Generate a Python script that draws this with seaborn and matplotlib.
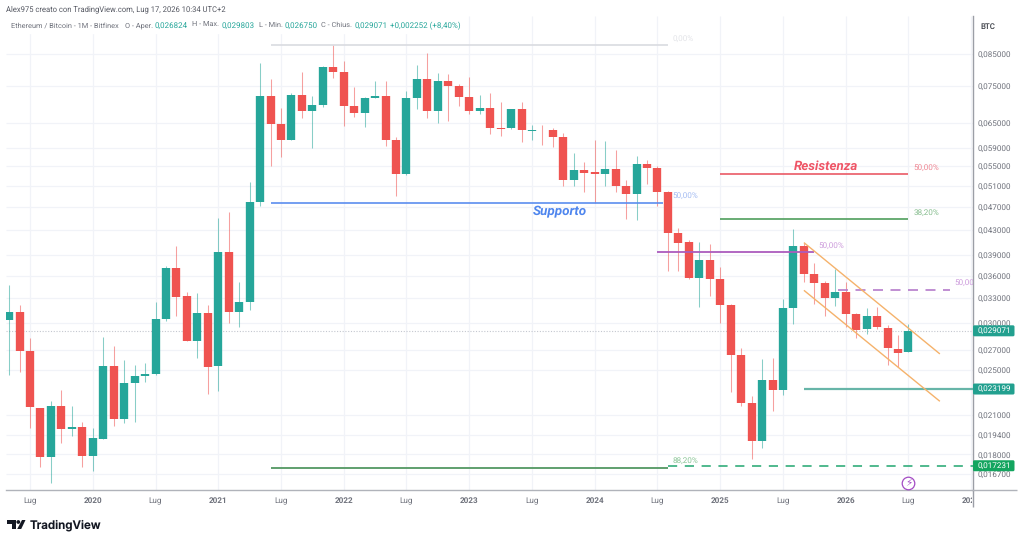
import numpy as np
import pandas as pd
import seaborn as sns
import matplotlib
matplotlib.use("Agg")
import matplotlib.pyplot as plt
from matplotlib.patches import FancyBboxPatch, Polygon, Circle, Rectangle
from matplotlib.transforms import Bbox, IdentityTransform

# ETH/BTC monthly candles, first candle May 2019, prices in units of 1e-5 BTC
opens = [3032, 3122, 2689, 2158, 1785, 2174, 1984, 2004, 1790, 1914, 2536, 2065, 2377, 2439, 2458, 3044,
         3708, 3327, 2794, 3119, 2536, 3950, 3130, 3251, 4795, 7225, 6474, 6083, 7253, 6824, 6969, 8091,
         7927, 6958, 6756, 7177, 7225, 6091, 5344, 7177, 7725, 6816, 7655, 7517, 7205, 6824, 6904, 6381,
         6373, 6860, 6319, 6343, 6331, 6170, 5216, 5416, 5380, 5338, 5443, 5102, 4947, 5550, 5454, 4979,
         4244, 4098, 3568, 3825, 3554, 3210, 2648, 2200, 1899, 2406, 2314, 3180, 4042, 3625, 3500, 3297,
         3375, 3103, 2927, 3075, 2943, 2712, 2682.4]
closes = [3128, 2689, 2163, 1785, 2174, 1984, 2004, 1790, 1919, 2536, 2063, 2377, 2439, 2458, 3047, 3708,
          3318, 2794, 3119, 2529, 3950, 3130, 3251, 4790, 7225, 6474, 6091, 7253, 6824, 6969, 8091, 7927,
          6958, 6756, 7177, 7217, 6091, 5344, 7177, 7725, 6816, 7655, 7508, 7205, 6824, 6904, 6373, 6356,
          6860, 6324, 6343, 6324, 6170, 5216, 5428, 5365, 5338, 5436, 5090, 4947, 5550, 5454, 4979, 4249,
          4092, 3568, 3825, 3554, 3210, 2644, 2200, 1899, 2406, 2314, 3180, 4042, 3625, 3500, 3297, 3375,
          3103, 2920, 3075, 2947, 2716, 2671, 2907.1]
highs = [3473, 3214, 2827, 2158, 2215, 2311, 2174, 2044, 1994, 2842, 2741, 2596, 2546, 2569, 3255, 3737,
         4037, 3379, 3366, 3214, 4502, 4607, 3517, 5182, 8219, 7716, 6895, 7301, 7918, 7225, 8113, 8800,
         8273, 7470, 7205, 7655, 7655, 6167, 7365, 8145, 8523, 7887, 7865, 7567, 7785, 7253, 7317, 7066,
         6868, 7066, 6456, 6456, 6389, 6251, 5785, 5600, 6091, 6068, 5859, 5216, 5727, 5636, 5507, 4990,
         4325, 4134, 4098, 4072, 3720, 3226, 2717, 2254, 2606, 2613, 3285, 4309, 4092, 3787, 3527, 3690,
         3517, 3115, 3175, 3193, 2974, 2860, 2980.3]
lows = [2449, 2478, 1994, 1715, 1612, 1885, 1936, 1717, 1688, 1914, 2012, 2036, 2044, 2387, 2450, 3024,
        3083, 2790, 2620, 2275, 2305, 2997, 2951, 3151, 4722, 5513, 5705, 6080, 6626, 5914, 6915, 7737,
        6438, 6652, 6398, 7170, 5960, 4908, 5310, 6860, 6642, 6513, 6563, 6958, 6738, 6738, 6228, 6187,
        6368, 6038, 6091, 5976, 5923, 5102, 5102, 4985, 4777, 5102, 4985, 4480, 4467, 5136, 4716, 3670,
        3670, 3560, 3192, 3331, 2994, 2296, 2172, 1767, 1848, 2133, 2266, 2989, 3513, 3223, 3079, 3203,
        2954, 2825, 2872, 2927, 2546, 2529, 2675]

price_ticks = [0.085, 0.075, 0.065, 0.059, 0.055, 0.051, 0.047, 0.043, 0.039, 0.036, 0.033,
               0.030, 0.027, 0.025, 0.021, 0.0194, 0.018, 0.0167]
month_ticks = [2, 8, 14, 20, 26, 32, 38, 44, 50, 56, 62, 68, 74, 80, 86, 92]
month_labels = ["Lug", "2020", "Lug", "2021", "Lug", "2022", "Lug", "2023", "Lug", "2024", "Lug",
                "2025", "Lug", "2026", "Lug", "2027"]

last_price = 0.029071
support_level = 0.0477
resistance_level = 0.0534
fib_382_level = 0.0448
purple_level = 0.0395
purple_dash_level = 0.03405
top_level = 0.0880
fib_882_level = 0.01708
target_level = 0.023199
bottom_level = 0.017231
channel_upper = [0.04092, 0.02658]
channel_lower = [0.03401, 0.02212]
channel_months = [76, 89]

GREEN = "#26a69a"
RED = "#ef5350"
GREY = "#6f727c"
W, H = 1024, 543

sns.set_theme(style="white")
plt.rcParams["font.family"] = ["Roboto", "DejaVu Sans"]
plt.rcParams["text.hinting"] = "no_hinting"
plt.rcParams["text.hinting_factor"] = 8
plt.rcParams["lines.solid_capstyle"] = "butt"
plt.rcParams["lines.dash_capstyle"] = "butt"

fig = plt.figure(figsize=(W / 100, H / 100), dpi=100, facecolor="white")
ax = fig.add_axes([6 / W, (H - 490) / H, 966.5 / W, 474 / H])
ax.set_yscale("log")
ax.set_xlim(-0.295, 92.12)
ax.set_ylim(0.015685, 0.09849)

# Candles as one wick and one body per month, drawn by seaborn with month units
o, c = np.array(opens) * 1e-5, np.array(closes) * 1e-5
hi, lo = np.array(highs) * 1e-5, np.array(lows) * 1e-5
month = np.arange(len(o))
direction = np.where(c >= o, "up", "down")
palette = {"up": GREEN, "down": RED}


def span_table(start, end):
    return pd.concat([
        pd.DataFrame({"month": month, "price": start, "dir": direction}),
        pd.DataFrame({"month": month, "price": end, "dir": direction}),
    ])


ax.axhline(last_price, color="#c4c7cf", lw=0.8, ls=(0, (1, 1.5)), zorder=1)
sns.lineplot(data=span_table(lo, hi), x="month", y="price", hue="dir", palette=palette, units="month",
             estimator=None, errorbar=None, sort=False, legend=False, lw=0.75, alpha=0.55, ax=ax)
sns.lineplot(data=span_table(o, c), x="month", y="price", hue="dir", palette=palette, units="month",
             estimator=None, errorbar=None, sort=False, legend=False, lw=6.0, ax=ax)


def level(x0, x1, price, color, lw=1.2, **kw):
    ax.plot([x0, x1], [price, price], color=color, lw=lw, zorder=4, **kw)


def level_label(month_pos, price, text, color, dy=5.0):
    t = ax.annotate(text, xy=(month_pos, price), xytext=(0, dy), textcoords="offset points", color=color,
                    fontsize=5.9, va="center", ha="left", zorder=5)
    t.set_clip_on(True)
    t.set_clip_box(ax.bbox)


level(25, 63, top_level, "#d9dbe0")
level(25, 62.5, support_level, "#5b8def")
level(68, 86, resistance_level, "#ea5a66")
level(68, 86, fib_382_level, "#4f9e5c")
level(62, 77, purple_level, "#ab5cbd", lw=1.3)
level(79.3, 90, purple_dash_level, "#b57ccb", ls=(0, (6, 4.5)))
level(25, 63, fib_882_level, "#5f9f6e", lw=1.4)
level(76, 92.12, target_level, "#67b5a8", lw=1.6)
level(63, 92.12, bottom_level, "#20a56f", lw=1.1, ls=(0, (6, 5)))

ax.plot(channel_months, channel_upper, color="#f5b26b", lw=1.0, zorder=4)
ax.plot(channel_months, channel_lower, color="#f5b26b", lw=1.0, zorder=4)

level_label(63.45, top_level, "0,00%", "#e3e4e8", dy=4.3)
level_label(63.45, support_level, "50,00%", "#a3bbf2")
level_label(86.45, resistance_level, "50,00%", "#ef8793", dy=4.3)
level_label(86.45, fib_382_level, "38,20%", "#86bd8e")
level_label(77.4, purple_level, "50,00%", "#cd9cdc", dy=4.6)
level_label(90.4, purple_dash_level, "50,00%", "#cd9cdc")
level_label(63.45, fib_882_level, "88,20%", "#8ac596")

ax.text(52.7, 0.0461, "Supporto", color="#4f86ee", fontsize=9.7, fontweight="bold", fontstyle="italic",
        ha="center", va="center", zorder=5)
ax.text(78.1, 0.0551, "Resistenza", color="#ee5566", fontsize=9.6, fontweight="bold", fontstyle="italic",
        ha="center", va="center", zorder=5)

# Axis furniture
ax.set_xlabel("")
ax.set_ylabel("")
ax.yaxis.tick_right()
ax.yaxis.set_minor_locator(matplotlib.ticker.NullLocator())
ax.set_yticks(price_ticks)
ax.set_yticklabels([f"{v:.6f}".replace(".", ",") for v in price_ticks], fontsize=5.9, color=GREY)
ax.set_xticks(month_ticks)
ax.set_xticklabels(month_labels, fontsize=5.9, color=GREY)
ax.tick_params(axis="both", length=0, pad=3.7, which="major")
ax.tick_params(axis="x", pad=5)
ax.grid(True, color="#f1f3f8", lw=0.9)
ax.set_axisbelow(True)
for lab in ax.get_xticklabels():
    if lab.get_text() != "Lug":
        lab.set_fontweight("bold")
ax.get_xticklabels()[-1].set_clip_box(Bbox([[0, 0], [972, H]]))
ax.get_xticklabels()[-1].set_clip_on(True)
for side in ("top", "left"):
    ax.spines[side].set_visible(False)
ax.spines["right"].set_color("#9b9ea6")
ax.spines["bottom"].set_color("#b0b3ba")
ax.spines["right"].set_linewidth(1.0)
ax.spines["bottom"].set_linewidth(1.0)

ident = IdentityTransform()
fig.add_artist(plt.Line2D([972.5, 972.5], [H - 507, H - 490], color="#9b9ea6", lw=1.0, transform=ident))
fig.add_artist(plt.Line2D([972, 1017], [H - 490, H - 490], color="#b0b3ba", lw=1.0, transform=ident))

# Event badge below the last candle
ax.scatter([86], [0.01612], s=82, facecolor="white", edgecolor="#a34bc4", linewidth=0.9, zorder=6)
ax.text(86, 0.01612, "\u26a1", color="#a34bc4", fontsize=7.5, ha="center", va="center", zorder=7,
        family=["DejaVu Sans"])


def ftext(x, y, s, **kw):
    kw.setdefault("fontsize", 5.35)
    kw.setdefault("va", "center")
    kw.setdefault("color", GREY)
    return fig.text(x / W, (H - y) / H, s, zorder=6, **kw)


# Header lines
fig.add_artist(Rectangle((6, H - 33), 460, 17, color="white", transform=ident, zorder=3))
ftext(6, 9.5, "Alex975 creato con TradingView.com, Lug 17, 2026 10:34 UTC+2", color="#555862", fontsize=5.5)
ftext(11, 25.5, "Ethereum / Bitcoin - 1M - Bitfinex")
ftext(125, 25.5, "O - Aper.")
ftext(155, 25.5, "0,026824", color=GREEN, fontsize=5.8)
ftext(192.5, 25.5, "H - Max.")
ftext(222, 25.5, "0,029803", color=GREEN, fontsize=5.8)
ftext(258.7, 25.5, "L - Min.")
ftext(284.3, 25.5, "0,026750", color=GREEN, fontsize=5.8)
ftext(321, 25.5, "C - Chius.")
ftext(355, 25.5, "0,029071", color=GREEN, fontsize=5.8)
ftext(390, 25.5, "+0,002252 (+8,40%)", color=GREEN, fontsize=5.75)
ftext(980.5, 26.5, "BTC", color="#3a3d45", fontweight="medium", fontsize=5.7)


# Price tags on the right scale, positioned from their values
def price_tag(price, color):
    y = ax.transData.transform((0, price))[1]
    fig.add_artist(FancyBboxPatch((973, y - 5.5), 41.5, 11, boxstyle="round,pad=0,rounding_size=1.5",
                                  fc=color, ec="none", transform=ident, zorder=5))
    fig.text(978 / W, y / H, f"{price:.6f}".replace(".", ","), color="white", fontsize=5.9,
             va="center", ha="left", zorder=6)


price_tag(last_price, "#22a08f")
price_tag(target_level, "#22a08f")
price_tag(bottom_level, "#13a55f")

# TradingView mark and wordmark
logo = "#131722"
fig.add_artist(Polygon([(7, H - 520), (15.5, H - 520), (15.5, H - 529), (11.5, H - 529), (11.5, H - 524),
                        (7, H - 524)], fc=logo, ec="none", transform=ident, zorder=5))
fig.add_artist(Circle((18.3, H - 522), 1.9, fc=logo, ec="none", transform=ident, zorder=5))
fig.add_artist(Polygon([(22, H - 520), (25.5, H - 520), (21.2, H - 529), (17.2, H - 529)],
                       fc=logo, ec="none", transform=ident, zorder=5))
ftext(29.5, 525, "TradingView", fontsize=8.35, fontweight="semibold", color=logo, family=["Inter"])

fig.savefig("out.png", dpi=100, facecolor="white")
